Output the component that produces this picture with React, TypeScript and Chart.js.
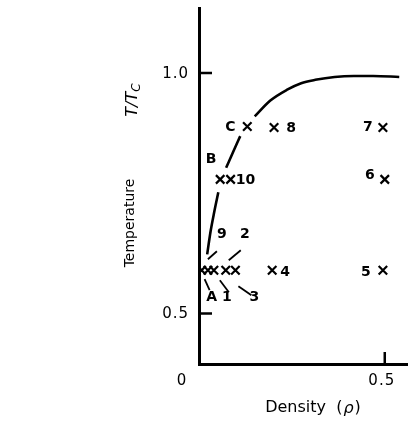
import { useEffect, useRef } from 'react';
import { Chart, registerables } from 'chart.js';

Chart.register(...registerables);

// Coexistence curve, drawn as three pieces broken around the point labels
const curveLowRho = [0.022, 0.031, 0.041, 0.052];
const curveLowT = [0.623, 0.670, 0.711, 0.752];
const curveMidRho = [0.073, 0.093, 0.111];
const curveMidT = [0.803, 0.838, 0.869];
const curveHighRho = [0.150, 0.192, 0.236, 0.275, 0.313, 0.365, 0.417, 0.469, 0.539];
const curveHighT = [0.910, 0.943, 0.965, 0.979, 0.986, 0.992, 0.994, 0.994, 0.992];

// Simulated state points (density, reduced temperature) and their names
const stateRho = [0.007, 0.024, 0.040, 0.072, 0.098, 0.197, 0.495, 0.057, 0.085, 0.130, 0.202, 0.495, 0.500];
const stateT = [0.590, 0.590, 0.590, 0.590, 0.590, 0.590, 0.590, 0.779, 0.779, 0.889, 0.887, 0.887, 0.779];
const stateLabels = ['A', '9', '1', '2', '3', '4', '5', 'B', '10', 'C', '8', '7', '6'];

const yTicks = [1.0, 0.5];
const xTicks = [0, 0.5];

const FONT = '"DejaVu Sans", sans-serif';

type LabelPlace = { dx: number; dy: number; lead?: [number, number, number, number] };

// Where each name sits relative to its marker, with an optional leader line
const labelPlaces: Record<string, LabelPlace> = {
  A: { dx: 10, dy: 27, lead: [3, 9, 8, 20] },
  '9': { dx: 14, dy: -36, lead: [0, -11, 9, -19] },
  '1': { dx: 13, dy: 27, lead: [6, 10, 15, 22] },
  '2': { dx: 19, dy: -36, lead: [3, -10, 15, -20] },
  '3': { dx: 19, dy: 27, lead: [3, 16, 16, 25] },
  '4': { dx: 13, dy: 2 },
  '5': { dx: -17, dy: 2 },
  B: { dx: -9, dy: -20 },
  '10': { dx: 15, dy: 1 },
  C: { dx: -17, dy: 1 },
  '8': { dx: 17, dy: 1 },
  '7': { dx: -15, dy: 0 },
  '6': { dx: -15, dy: -4 },
};

const annotate = {
  id: 'annotate',
  afterDraw(chart: any) {
    const ctx = chart.ctx as CanvasRenderingContext2D;
    const xs = chart.scales.x;
    const ys = chart.scales.y;
    const x0 = xs.getPixelForValue(0);
    const yBase = ys.getPixelForValue(ys.min);
    ctx.save();
    ctx.fillStyle = '#000';
    ctx.strokeStyle = '#000';

    // inward tick marks
    ctx.lineWidth = 2.5;
    ctx.beginPath();
    yTicks.forEach((v) => {
      const py = ys.getPixelForValue(v);
      ctx.moveTo(x0, py);
      ctx.lineTo(x0 + 13, py);
    });
    const px5 = xs.getPixelForValue(0.5);
    ctx.moveTo(px5, yBase);
    ctx.lineTo(px5, yBase - 12);
    ctx.stroke();

    // tick labels
    (ctx as any).letterSpacing = '1px';
    ctx.font = `15px ${FONT}`;
    ctx.textBaseline = 'middle';
    ctx.textAlign = 'right';
    yTicks.forEach((v) => {
      ctx.fillText(v.toFixed(1), x0 - 10, ys.getPixelForValue(v) + 1);
    });
    ctx.textAlign = 'center';
    xTicks.forEach((v) => {
      const txt = v === 0 ? '0' : v.toFixed(1);
      const off = v === 0 ? -17 : -3;
      ctx.fillText(txt, xs.getPixelForValue(v) + off, yBase + 17);
    });
    (ctx as any).letterSpacing = '0px';

    // point names and leader lines
    ctx.font = `bold 14px ${FONT}`;
    ctx.lineWidth = 1.8;
    stateLabels.forEach((name, i) => {
      const place = labelPlaces[name];
      const px = xs.getPixelForValue(stateRho[i]);
      const py = ys.getPixelForValue(stateT[i]);
      ctx.fillText(name, px + place.dx, py + place.dy);
      if (place.lead) {
        const [a, b, c, d] = place.lead;
        ctx.beginPath();
        ctx.moveTo(px + a, py + b);
        ctx.lineTo(px + c, py + d);
        ctx.stroke();
      }
    });

    // x axis title: Density (ρ)
    ctx.textAlign = 'left';
    const partA = 'Density  (';
    ctx.font = `16px ${FONT}`;
    const wA = ctx.measureText(partA).width;
    ctx.font = `italic 16px ${FONT}`;
    const wRho = ctx.measureText('ρ').width;
    ctx.font = `16px ${FONT}`;
    const wC = ctx.measureText(')').width;
    let tx = 313 - (wA + wRho + wC + 2) / 2;
    const ty = 408;
    ctx.fillText(partA, tx, ty);
    tx += wA + 1;
    ctx.font = `italic 16px ${FONT}`;
    ctx.fillText('ρ', tx, ty + 1);
    tx += wRho + 1;
    ctx.font = `16px ${FONT}`;
    ctx.fillText(')', tx, ty);

    // y axis title, rotated
    ctx.save();
    ctx.translate(130, 223);
    ctx.rotate(-Math.PI / 2);
    ctx.textAlign = 'center';
    ctx.font = `14px ${FONT}`;
    ctx.fillText('Temperature', 0, 0);
    ctx.restore();

    ctx.save();
    ctx.translate(133, 100);
    ctx.rotate(-Math.PI / 2);
    ctx.textAlign = 'left';
    ctx.font = `italic 16px ${FONT}`;
    const wT = ctx.measureText('T/T').width;
    ctx.font = `italic 12px ${FONT}`;
    const wSub = ctx.measureText('C').width;
    const start = -(wT + wSub) / 2;
    ctx.font = `italic 16px ${FONT}`;
    ctx.fillText('T/T', start, 0);
    ctx.font = `italic 12px ${FONT}`;
    ctx.fillText('C', start + wT, 4);
    ctx.restore();

    ctx.restore();
  },
};

function toPoints(xsArr: number[], ysArr: number[]) {
  return xsArr.map((x, i) => ({ x, y: ysArr[i] }));
}

export default function App() {
  const ref = useRef<HTMLCanvasElement | null>(null);

  useEffect(() => {
    if (!ref.current) return;
    const curveStyle = {
      showLine: true,
      borderColor: '#000',
      borderWidth: 2.6,
      pointRadius: 0,
      cubicInterpolationMode: 'monotone' as const,
    };
    const chart = new Chart(ref.current, {
      type: 'scatter',
      data: {
        datasets: [
          { ...curveStyle, data: toPoints(curveLowRho, curveLowT) },
          { ...curveStyle, data: toPoints(curveMidRho, curveMidT) },
          { ...curveStyle, data: toPoints(curveHighRho, curveHighT) },
          {
            data: toPoints(stateRho, stateT),
            showLine: false,
            pointStyle: 'crossRot',
            pointRadius: 6,
            pointBorderWidth: 2.2,
            borderColor: '#000',
            backgroundColor: '#000',
          },
        ],
      },
      plugins: [annotate],
      options: {
        animation: false,
        responsive: false,
        events: [],
        layout: { padding: { top: 3, right: 0, left: 0, bottom: 0 } },
        plugins: { legend: { display: false }, tooltip: { enabled: false } },
        scales: {
          x: {
            type: 'linear',
            min: 0,
            max: 0.562,
            grid: { display: false },
            ticks: { display: false },
            border: { display: true, color: '#000', width: 3 },
            afterFit: (s: any) => {
              s.height = 59;
            },
          },
          y: {
            type: 'linear',
            min: 0.395,
            max: 1.135,
            grid: { display: false },
            ticks: { display: false },
            border: { display: true, color: '#000', width: 3 },
            afterFit: (s: any) => {
              s.width = 199;
            },
          },
        },
      },
    });
    return () => chart.destroy();
  }, []);

  return (
    <div style={{ position: 'fixed', left: 0, top: 0, width: 416, height: 423, background: '#fff' }}>
      <canvas ref={ref} width={416} height={423} />
    </div>
  );
}
